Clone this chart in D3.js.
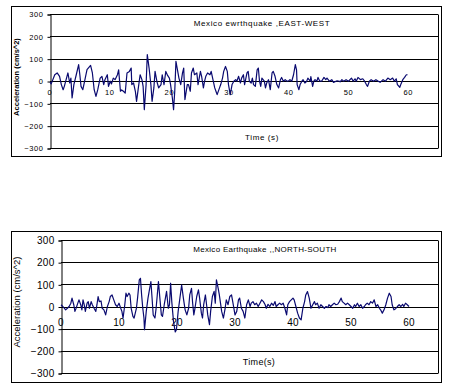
<!DOCTYPE html>
<html lang="en">
<head>
    <meta charset="UTF-8">
    <title>Mexico earthquake records</title>
    <style>
        body { margin: 0; background: #fff; }
        text { font-family: "Liberation Sans", Arial, sans-serif; fill: #000; }
    </style>
</head>
<body>

    <svg id="svg" width="458" height="389"></svg>

    <script src="https://d3js.org/d3.v7.min.js"></script>
    <script>
        // East-west record, time (s) and acceleration (cm/s^2)
        const ewTime = [0,0.2,0.8,1.2,1.6,1.9,2.2,2.4,2.7,3.0,3.3,3.5,3.7,4.0,4.4,4.8,5.0,5.2,5.5,5.8,
            6.2,6.8,7.1,7.4,7.7,8.0,8.4,8.7,9.0,9.2,9.6,9.8,10.1,10.3,10.6,10.9,11.3,11.5,11.8,12.0,
            12.3,12.6,12.9,13.3,13.6,13.7,14.0,14.3,14.5,14.8,15.1,15.4,15.6,15.8,16.1,16.3,16.6,16.9,17.1,17.4,
            17.6,17.9,18.2,18.6,18.8,19.1,19.4,19.7,20.0,20.2,20.5,20.7,20.9,21.1,21.3,21.6,21.9,22.2,22.4,22.6,
            23.0,23.2,23.5,23.7,24.0,24.2,24.6,24.8,25.0,25.2,25.4,25.7,25.9,26.1,26.4,26.8,27.0,27.3,27.6,27.8,
            28.0,28.4,28.6,28.9,29.1,29.4,29.7,29.9,30.2,30.5,30.8,31.1,31.3,31.6,31.9,32.1,32.4,32.6,33.0,33.2,
            33.4,33.7,33.9,34.1,34.4,34.7,34.9,35.1,35.3,35.5,35.9,36.1,36.3,36.6,36.9,37.2,37.4,37.7,38.0,38.3,
            38.6,38.8,39.1,39.4,39.7,40.0,40.2,40.5,40.8,41.1,41.3,41.4,41.7,41.9,42.2,42.4,42.7,43.0,43.2,43.6,
            43.7,44.0,44.2,44.4,44.7,44.9,45.2,45.5,45.9,46.2,46.4,46.8,47.2,47.5,48.1,48.5,48.6,48.9,49.2,49.6,
            50.0,50.5,50.8,51.1,51.3,51.6,52.0,52.4,52.7,53.0,53.2,53.5,53.8,54.2,54.6,55.0,55.3,55.8,56.2,56.6,
            57.0,57.4,57.7,58.0,58.2,58.6,58.8,59.1,59.4,59.7,59.9]
        const ewAcc = [-5,-13,28,36,21,-16,-39,-24,6,36,-9,13,-76,-16,28,73,28,-24,-39,-1,
            51,70,36,-39,-69,-39,13,21,-16,6,28,-24,-1,-13,13,6,28,50,-46,-40,
            -46,-54,36,43,58,-16,-9,-46,-91,-31,28,6,-24,-128,-16,118,58,-16,-91,-31,
            43,-1,-31,-16,28,-16,43,25,13,-16,-76,-128,-46,88,58,13,-16,36,58,-83,
            -16,-16,-46,36,58,28,36,-16,13,43,21,-31,-1,21,36,28,43,6,-31,-46,
            -61,-31,-16,13,43,65,43,-16,-61,-16,-1,6,-1,21,-9,13,28,-16,36,43,
            -1,-9,13,-16,-24,50,58,-1,-24,13,-1,-31,-9,6,-39,36,43,21,-16,-31,
            6,16,-1,6,-1,1,6,-1,28,73,50,-16,-39,-16,-1,6,-9,-1,13,-1,
            20,-24,-1,6,-1,16,-1,-1,16,6,13,-1,6,-6,1,-1,-4,6,-1,6,
            -1,13,-1,10,-1,16,6,10,-1,-16,-24,-1,6,-1,6,-1,-6,6,-1,13,
            6,13,-1,10,-16,-28,-13,6,16,28,28]

        // North-south record
        const nsTime = [0,0.3,0.5,0.8,1.1,1.4,1.7,1.9,2.2,2.4,2.6,2.9,3.1,3.4,3.6,3.8,4.0,4.2,4.5,4.7,
            4.9,5.2,5.4,5.7,6.0,6.2,6.4,6.6,6.9,7.1,7.4,7.7,8.0,8.3,8.5,8.8,9.1,9.4,9.7,10.0,
            10.3,10.5,10.7,11.0,11.2,11.4,11.7,11.9,12.1,12.4,12.6,13.0,13.2,13.5,13.7,13.9,14.1,14.3,14.4,14.7,
            15.0,15.2,15.5,15.7,15.9,16.2,16.4,16.6,16.8,17.1,17.3,17.5,17.8,18.0,18.2,18.5,18.7,18.9,19.1,19.4,
            19.7,19.9,20.2,20.5,20.8,21.1,21.4,21.7,22.0,22.2,22.5,22.7,22.9,23.1,23.4,23.7,23.9,24.2,24.4,24.6,
            24.9,25.1,25.3,25.6,25.8,26.1,26.4,26.6,26.8,27.1,27.3,27.5,27.7,28.0,28.3,28.5,28.8,29.1,29.4,29.7,
            30.0,30.3,30.6,30.8,31.1,31.4,31.7,32.0,32.3,32.6,32.8,33.1,33.4,33.7,34.0,34.3,34.6,34.9,35.2,35.4,
            35.7,36.0,36.3,36.6,36.9,37.1,37.4,37.7,38.0,38.3,38.6,38.9,39.1,39.4,39.7,40.0,40.2,40.5,40.8,41.1,
            41.4,41.7,42.0,42.2,42.5,42.8,43.1,43.4,43.7,43.9,44.2,44.5,44.8,45.1,45.4,45.7,46.0,46.2,46.5,46.8,
            47.1,47.4,47.7,48.0,48.3,48.5,48.8,49.1,49.4,49.7,50.0,50.3,50.6,50.8,51.1,51.4,51.7,52.0,52.3,52.5,
            52.8,53.1,53.4,53.7,54.0,54.3,54.6,54.9,55.1,55.4,55.7,56.0,56.3,56.6,56.9,57.1,57.4,57.7,58.0,58.3,
            58.6,58.9,59.1,59.4,59.7,60.0]
        const nsAcc = [8,0,-5,-15,-8,0,15,38,8,-22,-8,15,30,8,-15,30,8,-22,15,22,
            -8,22,8,-8,-22,8,45,22,25,-8,-15,-38,0,22,45,52,30,8,0,15,
            -8,-22,-52,8,60,45,60,52,-8,-45,-52,-8,38,120,127,52,-8,-52,-105,-22,
            38,68,112,38,-38,-52,-8,52,112,22,-38,-45,8,38,68,-8,8,105,22,-68,
            -115,-105,-22,38,97,38,-15,-38,-8,52,82,15,-38,-8,45,75,38,-30,-52,8,
            52,8,-38,-82,-22,45,68,15,120,82,52,15,-22,-52,-8,30,8,45,52,8,
            -38,-22,30,38,-8,-22,-52,8,30,0,15,22,8,15,0,15,30,22,8,-8,
            10,0,15,5,22,0,8,15,8,15,-8,-38,8,22,30,38,30,0,-30,-52,
            -60,-8,22,52,67,38,-8,8,22,8,15,-8,8,0,-8,0,-5,8,0,8,
            15,8,10,22,38,22,15,8,15,8,0,-8,8,0,15,0,8,-8,0,8,
            15,8,22,15,30,0,8,-8,-15,-30,-15,8,38,60,45,8,-15,-10,0,8,
            0,10,0,15,8,0]

        const yTicks = [-300, -200, -100, 0, 100, 200, 300]
        const xTicks = [0, 10, 20, 30, 40, 50, 60]

        const svg = d3.select('#svg')

        function drawChart(o) {
            const g = svg.append('g')

            // outer chart frame
            g.append('rect')
                .attr('x', o.box[0] + 0.5).attr('y', o.box[1] + 0.5)
                .attr('width', o.box[2] - o.box[0]).attr('height', o.box[3] - o.box[1])
                .attr('fill', 'none').attr('stroke', '#000')

            const xScale = d3.scaleLinear().domain([0, 65]).range([o.plot[0], o.plot[2]])
            const yScale = d3.scaleLinear().domain([-300, 300]).range([o.plot[3], o.plot[1]])

            // horizontal gridlines
            g.selectAll('.grid')
                .data(yTicks)
                .enter()
                .append('line')
                .attr('x1', o.plot[0]).attr('x2', o.plot[2])
                .attr('y1', d => Math.round(yScale(d)) + 0.5)
                .attr('y2', d => Math.round(yScale(d)) + 0.5)
                .attr('stroke', '#000')

            // right edge of plot area
            g.append('line')
                .attr('x1', o.plot[2] + 0.5).attr('x2', o.plot[2] + 0.5)
                .attr('y1', Math.round(yScale(300)) + 0.5).attr('y2', Math.round(yScale(-300)) + 0.5)
                .attr('stroke', '#000')

            // y axis
            const yAxis = d3.axisLeft(yScale)
                .tickValues(yTicks)
                .tickSize(3)
                .tickPadding(o.yPad)
                .tickFormat(d3.format('d'))
            const ya = g.append('g')
                .attr('transform', `translate(${o.plot[0] + 0.5},0.5)`)
                .call(yAxis)
            ya.select('.domain').attr('stroke', '#000')
            ya.selectAll('.tick line').attr('stroke', '#000')
            ya.selectAll('.tick text')
                .style('font-size', o.tickFont + 'px')
                .style('letter-spacing', o.spacing + 'px')
                .style('font-family', '"Liberation Sans", Arial, sans-serif')

            // x tick labels sit under the zero line
            g.selectAll('.xlab')
                .data(xTicks)
                .enter()
                .append('text')
                .attr('x', d => xScale(d))
                .attr('y', yScale(0) + o.xLabDy)
                .attr('text-anchor', 'middle')
                .style('font-size', o.xFont + 'px')
                .style('letter-spacing', o.spacing + 'px')
                .text(d => d)

            // trace
            const line = d3.line()
                .x(d => xScale(d[0]))
                .y(d => yScale(d[1]))
            g.append('path')
                .datum(d3.zip(o.time, o.acc))
                .attr('d', line)
                .attr('fill', 'none')
                .attr('stroke', '#0a0a70')
                .attr('stroke-width', 1.2)
                .attr('stroke-linejoin', 'round')

            // titles
            g.append('text')
                .attr('x', o.titleX).attr('y', o.titleY)
                .attr('text-anchor', 'middle')
                .style('font-size', '8px')
                .style('letter-spacing', o.spacing + 'px')
                .text(o.title)

            g.append('text')
                .attr('x', o.xTitleX).attr('y', o.xTitleY)
                .attr('text-anchor', 'middle')
                .style('font-size', o.xTitleFont + 'px')
                .style('letter-spacing', o.spacing + 'px')
                .text(o.xTitle)

            g.append('text')
                .attr('transform', `translate(${o.yTitleX},${o.yTitleY}) rotate(-90)`)
                .attr('text-anchor', 'middle')
                .style('font-size', o.yTitleFont + 'px')
                .style('font-weight', o.yTitleWeight)
                .text('Acceleration (cm/s^2)')
        }

        drawChart({
            box: [11, 6, 441, 156],
            plot: [50, 14, 438, 148],
            time: ewTime, acc: ewAcc,
            yPad: 4, tickFont: 7.5, xFont: 7.5, spacing: 0.6, xLabDy: 14,
            title: 'Mexico ewrthquake ,EAST-WEST', titleX: 262, titleY: 26,
            xTitle: 'Time (s)', xTitleX: 262, xTitleY: 140, xTitleFont: 8,
            yTitleX: 19, yTitleY: 77, yTitleFont: 7.5, yTitleWeight: 'bold'
        })

        drawChart({
            box: [11, 231, 441, 382],
            plot: [61, 240, 438, 373],
            time: nsTime, acc: nsAcc,
            yPad: 4, tickFont: 10, xFont: 10, spacing: 0.3, xLabDy: 19,
            title: 'Mexico Earthquake ,,NORTH-SOUTH', titleX: 265, titleY: 252,
            xTitle: 'Time(s)', xTitleX: 259, xTitleY: 365, xTitleFont: 9,
            yTitleX: 20, yTitleY: 302, yTitleFont: 9.5, yTitleWeight: 'normal'
        })
    </script>
</body>
</html>
